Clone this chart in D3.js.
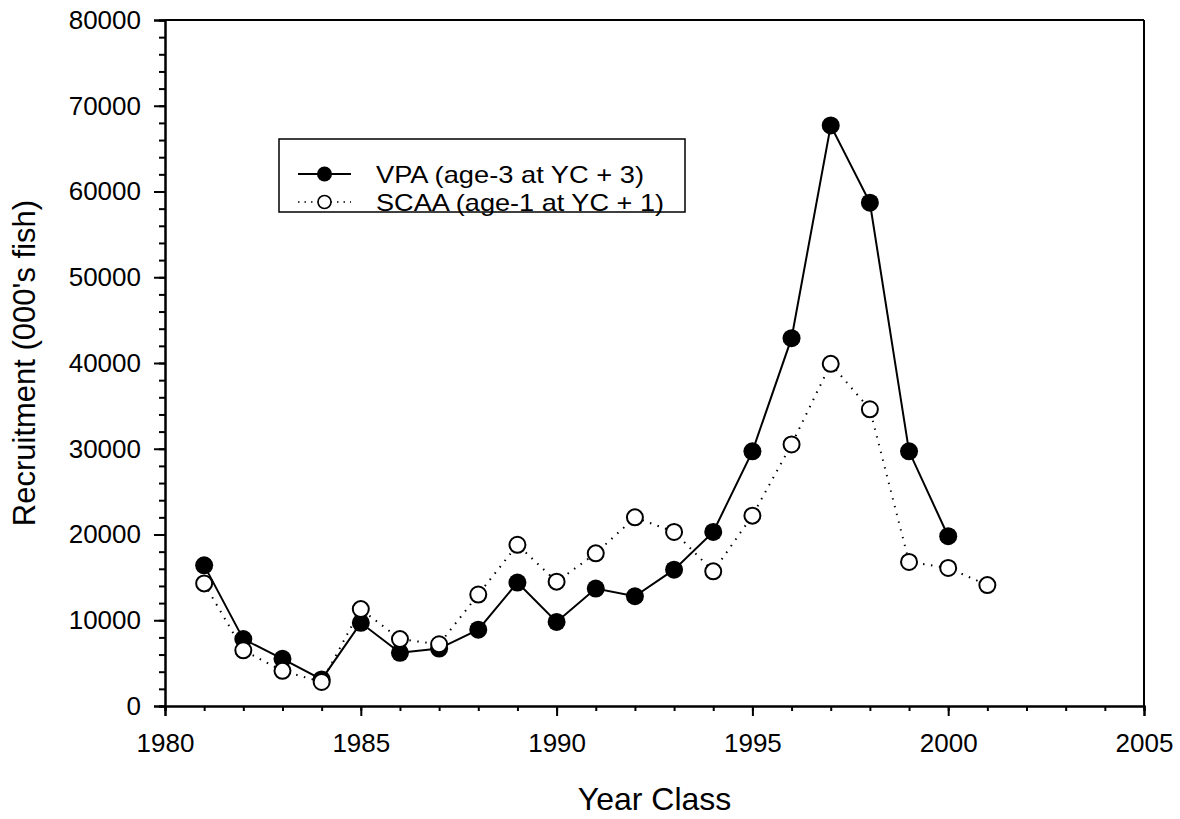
<!DOCTYPE html>
<html>
<head>
<meta charset="utf-8">
<script src="https://cdn.jsdelivr.net/npm/d3@7"></script>
<style>
  html, body { margin: 0; padding: 0; background: #fff; }
  svg text { font-family: "Liberation Sans", Arial, sans-serif; fill: #000; }
</style>
</head>
<body>
<svg id="chart" width="1180" height="819"></svg>
<script>
// Recruitment by year class: VPA vs SCAA estimates (thousands of fish)
const vpaYears = [1981,1982,1983,1984,1985,1986,1987,1988,1989,1990,1991,1992,1993,1994,1995,1996,1997,1998,1999,2000];
const vpaValues = [16400,7800,5500,3100,9700,6200,6700,8900,14400,9800,13700,12800,15900,20300,29700,42900,67700,58700,29700,19800];
const scaaYears = [1981,1982,1983,1984,1985,1986,1987,1988,1989,1990,1991,1992,1993,1994,1995,1996,1997,1998,1999,2000,2001];
const scaaValues = [14300,6500,4100,2800,11300,7800,7200,13000,18800,14500,17800,22000,20300,15700,22200,30500,39900,34600,16800,16100,14100];
const xTickValues = [1980,1985,1990,1995,2000,2005];
const yTickValues = [0,10000,20000,30000,40000,50000,60000,70000,80000];
const seriesNames = ["VPA (age-3 at YC + 3)", "SCAA (age-1 at YC + 1)"];
const xTitle = "Year Class";
const yTitle = "Recruitment (000's fish)";

const svg = d3.select("#chart");
const plotL = 165, plotR = 1144, plotT = 20, plotB = 706;

const x = d3.scaleLinear().domain([1980, 2005]).range([plotL, plotR]);
const y = d3.scaleLinear().domain([0, 80000]).range([plotB, plotT]);

// frame: top and right edges
svg.append("line").attr("x1", plotL).attr("x2", plotR).attr("y1", plotT).attr("y2", plotT)
  .attr("stroke", "#000").attr("stroke-width", 2);
svg.append("line").attr("x1", plotR).attr("x2", plotR).attr("y1", plotT).attr("y2", plotB)
  .attr("stroke", "#000").attr("stroke-width", 2);

// minor ticks
const xMinor = d3.range(1980, 2006, 1);
const yMinor = d3.range(0, 80001, 2000);

const xAxisMinor = d3.axisBottom(x).tickValues(xMinor).tickSize(5).tickFormat("");
const yAxisMinor = d3.axisLeft(y).tickValues(yMinor).tickSize(6).tickFormat("");
const xAxis = d3.axisBottom(x).tickValues(xTickValues).tickSize(10).tickPadding(18).tickFormat(d3.format("d"));
const yAxis = d3.axisLeft(y).tickValues(yTickValues).tickSize(11).tickPadding(13).tickFormat(d3.format("d"));

function styleAxis(g, fs) {
  g.select(".domain").attr("stroke", "#000").attr("stroke-width", 2);
  g.selectAll(".tick line").attr("stroke", "#000").attr("stroke-width", 2);
  g.selectAll("text").attr("font-size", fs).attr("font-family", "Liberation Sans, Arial, sans-serif");
}

svg.append("g").attr("transform", `translate(0,${plotB})`).call(xAxisMinor).call(g => styleAxis(g, 0));
svg.append("g").attr("transform", `translate(${plotL},0)`).call(yAxisMinor).call(g => styleAxis(g, 0));
svg.append("g").attr("transform", `translate(0,${plotB})`).call(xAxis).call(g => styleAxis(g, 26));
svg.append("g").attr("transform", `translate(${plotL},0)`).call(yAxis).call(g => styleAxis(g, 26));

// axis titles
svg.append("text").attr("x", (plotL + plotR) / 2).attr("y", 810)
  .attr("text-anchor", "middle").attr("font-size", 32).text(xTitle);
svg.append("text").attr("transform", `translate(35,${(plotT + plotB) / 2}) rotate(-90)`)
  .attr("text-anchor", "middle").attr("font-size", 31).text(yTitle);

const vpa = vpaYears.map((yr, i) => ({ yr, v: vpaValues[i] }));
const scaa = scaaYears.map((yr, i) => ({ yr, v: scaaValues[i] }));
const line = d3.line().x(d => x(d.yr)).y(d => y(d.v));

// series lines
svg.append("path").datum(scaa).attr("d", line).attr("fill", "none")
  .attr("stroke", "#000").attr("stroke-width", 2).attr("stroke-dasharray", "1.5,6.5");
svg.append("path").datum(vpa).attr("d", line).attr("fill", "none")
  .attr("stroke", "#000").attr("stroke-width", 2);

// markers
svg.append("g").selectAll("circle").data(vpa).join("circle")
  .attr("cx", d => x(d.yr)).attr("cy", d => y(d.v)).attr("r", 9).attr("fill", "#000");
svg.append("g").selectAll("circle").data(scaa).join("circle")
  .attr("cx", d => x(d.yr)).attr("cy", d => y(d.v)).attr("r", 8)
  .attr("fill", "#fff").attr("stroke", "#000").attr("stroke-width", 2);

// legend
const lg = svg.append("g");
lg.append("rect").attr("x", 279).attr("y", 139).attr("width", 406).attr("height", 73)
  .attr("fill", "#fff").attr("stroke", "#000").attr("stroke-width", 1.5);
const rows = [
  { name: seriesNames[0], cy: 174, filled: true, len: 268 },
  { name: seriesNames[1], cy: 202, filled: false, len: 288 }
];
rows.forEach(r => {
  lg.append("line").attr("x1", 298).attr("x2", 351).attr("y1", r.cy).attr("y2", r.cy)
    .attr("stroke", "#000").attr("stroke-width", r.filled ? 2 : 1.5)
    .attr("stroke-dasharray", r.filled ? null : "1.5,5");
  lg.append("circle").attr("cx", 324.5).attr("cy", r.cy).attr("r", r.filled ? 7.5 : 6.5)
    .attr("fill", r.filled ? "#000" : "#fff").attr("stroke", "#000").attr("stroke-width", r.filled ? 0 : 1.6);
  lg.append("text").attr("x", 376).attr("y", r.cy).attr("dy", "0.36em")
    .attr("font-size", 24).attr("textLength", r.len).attr("lengthAdjust", "spacingAndGlyphs")
    .text(r.name);
});
</script>
</body>
</html>
